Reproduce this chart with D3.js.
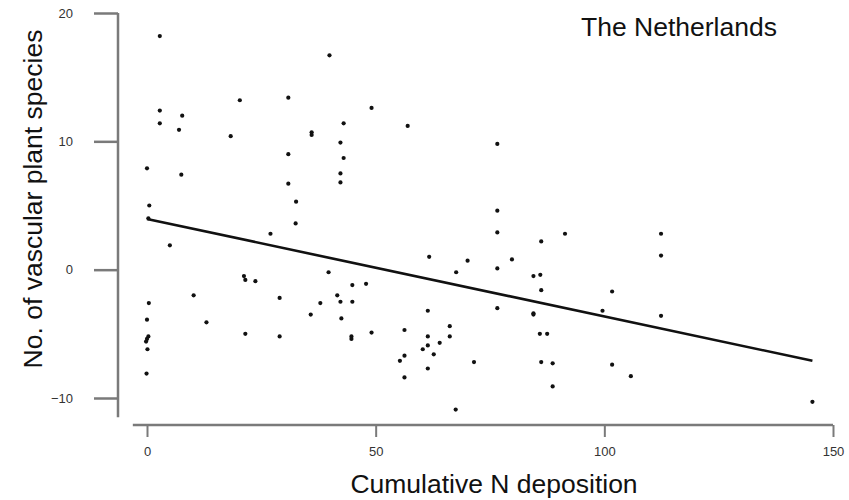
<!DOCTYPE html>
<html>
<head>
<meta charset="utf-8">
<script src="https://cdn.jsdelivr.net/npm/d3@7"></script>
<style>
  html, body { margin: 0; padding: 0; background: #fff; }
  svg { display: block; }
</style>
</head>
<body>
<svg id="chart" width="849" height="500"></svg>
<script>
// Cumulative N deposition per site
const nDeposition = [
  2.8, 2.8, 7.7, 2.8, 7.0, 20.3, 18.3, 30.9, 30.9, 30.9,
  32.6, 0.0, 7.5, 0.5, 0.3, 39.9, 49.1, 43.0, 36.0, 36.0,
  57.0, 42.3, 43.0, 42.3, 42.3, 76.6, 76.6, 5.0, 32.5, 27.0,
  21.2, 21.5, 23.7, 0.4, 10.2, 29.0, 0.0, 13.0, 0.3, 0.0,
  -0.2, 0.1, 21.5, 29.0, -0.1, 61.7, 70.1, 67.6, 39.7, 44.9,
  47.9, 41.6, 37.9, 42.3, 44.9, 35.8, 42.5, 44.7, 44.7, 49.1,
  61.4, 56.3, 61.4, 61.4, 60.3, 64.0, 66.2, 66.2, 62.7, 56.3,
  55.3, 61.4, 56.3, 71.5, 67.5, 76.6, 86.2, 91.4, 112.4, 112.4,
  79.8, 76.6, 84.5, 86.0, 86.2, 101.7, 76.6, 84.5, 84.5, 99.6,
  112.4, 85.9, 87.5, 86.2, 88.7, 88.7, 101.7, 105.8, 145.5
];

// Change in number of vascular plant species per site
const speciesChange = [
  18.2, 12.4, 12.0, 11.4, 10.9, 13.2, 10.4, 13.4, 9.0, 6.7,
  5.3, 7.9, 7.4, 5.0, 4.0, 16.7, 12.6, 11.4, 10.7, 10.5,
  11.2, 9.9, 8.7, 7.5, 6.8, 9.8, 4.6, 1.9, 3.6, 2.8,
  -0.5, -0.8, -0.9, -2.6, -2.0, -2.2, -3.9, -4.1, -5.2, -5.4,
  -5.6, -6.2, -5.0, -5.2, -8.1, 1.0, 0.7, -0.2, -0.2, -1.2,
  -1.1, -2.0, -2.6, -2.5, -2.5, -3.5, -3.8, -5.2, -5.4, -4.9,
  -3.2, -4.7, -5.2, -5.9, -6.2, -5.7, -4.4, -5.2, -6.6, -6.7,
  -7.1, -7.7, -8.4, -7.2, -10.9, 2.9, 2.2, 2.8, 2.8, 1.1,
  0.8, 0.1, -0.5, -0.4, -1.6, -1.7, -3.0, -3.4, -3.5, -3.2,
  -3.6, -5.0, -5.0, -7.2, -7.3, -9.1, -7.4, -8.3, -10.3
];

// Fitted regression line endpoints
const fitX = [0, 145.5];
const fitY = [3.95, -7.1];

const xTicks = [0, 50, 100, 150];
const yTicks = [-10, 0, 10, 20];

const svg = d3.select("#chart");

const x = d3.scaleLinear().domain([0, 150]).range([147, 833]);
const y = d3.scaleLinear().domain([-10, 20]).range([398, 13]);

const axisColor = "#7a7a7a";
const tickFont = "'Liberation Sans Narrow', 'Liberation Sans', Arial, sans-serif";

// x axis
const xAxisY = 425;
const gx = svg.append("g").attr("transform", `translate(0,${xAxisY})`)
  .call(d3.axisBottom(x).tickValues(xTicks).tickSize(12).tickPadding(10).tickFormat(d3.format("d")));
gx.select(".domain").remove();
gx.append("line")
  .attr("x1", x(-3.1)).attr("x2", x(150))
  .attr("y1", 0).attr("y2", 0)
  .attr("stroke", axisColor).attr("stroke-width", 2.5);
gx.selectAll(".tick line").attr("stroke", axisColor).attr("stroke-width", 2);
gx.selectAll(".tick text")
  .attr("fill", "#333").style("font-family", tickFont).style("font-size", "13px");

// y axis
const yAxisX = 118;
const gy = svg.append("g").attr("transform", `translate(${yAxisX},0)`)
  .call(d3.axisLeft(y).tickValues(yTicks).tickSize(24).tickPadding(21).tickFormat(d3.format("d")));
gy.select(".domain").remove();
gy.append("line")
  .attr("x1", 0).attr("x2", 0)
  .attr("y1", y(20)).attr("y2", y(-11.5))
  .attr("stroke", axisColor).attr("stroke-width", 2.5);
gy.selectAll(".tick line").attr("stroke", axisColor).attr("stroke-width", 2.5);
gy.selectAll(".tick text")
  .attr("fill", "#333").style("font-family", tickFont).style("font-size", "13px");

// regression line
svg.append("line")
  .attr("x1", x(fitX[0])).attr("y1", y(fitY[0]))
  .attr("x2", x(fitX[1])).attr("y2", y(fitY[1]))
  .attr("stroke", "#111").attr("stroke-width", 2.6);

// site points
const pts = nDeposition.map((d, i) => ({ x: d, y: speciesChange[i] }));
svg.append("g").selectAll("circle")
  .data(pts).join("circle")
  .attr("cx", d => x(d.x)).attr("cy", d => y(d.y))
  .attr("r", 2.1).attr("fill", "#111");

// labels
const labelFont = "'Liberation Sans', Arial, sans-serif";
svg.append("text")
  .attr("x", 679).attr("y", 36)
  .attr("text-anchor", "middle")
  .style("font-family", labelFont).style("font-size", "26.5px").attr("fill", "#111")
  .text("The Netherlands");

svg.append("text")
  .attr("x", 494).attr("y", 493)
  .attr("text-anchor", "middle")
  .style("font-family", labelFont).style("font-size", "26.5px").attr("fill", "#111")
  .text("Cumulative N deposition");

svg.append("text")
  .attr("transform", "translate(42,199) rotate(-90)")
  .attr("text-anchor", "middle")
  .style("font-family", labelFont).style("font-size", "26.5px").attr("fill", "#111")
  .text("No. of vascular plant species");
</script>
</body>
</html>
